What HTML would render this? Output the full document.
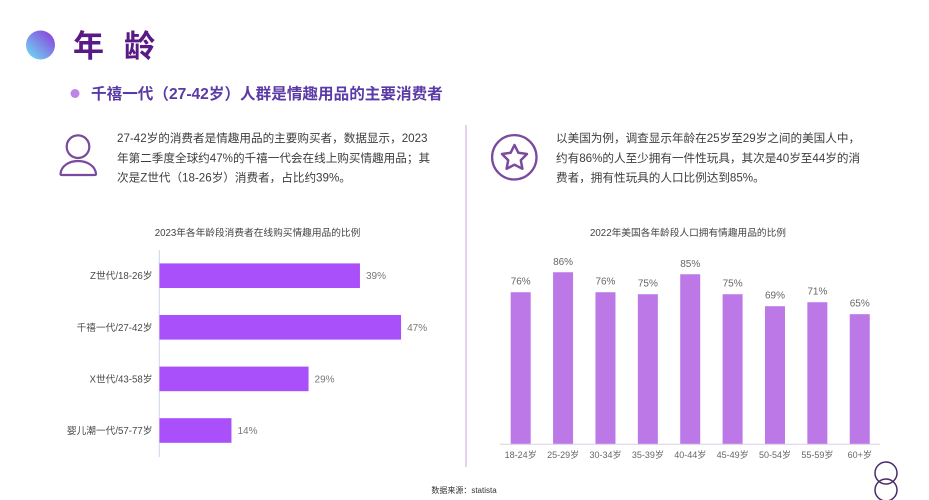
<!DOCTYPE html>
<html lang="zh-CN">
<head>
<meta charset="utf-8">
<title>年龄</title>
<style>
html,body{margin:0;padding:0;background:#fff;}
body{width:929px;height:500px;overflow:hidden;}
svg{display:block;}
text{font-family:"Liberation Sans","Noto Sans CJK SC",sans-serif;}
</style>
</head>
<body>
<svg id="page" xmlns="http://www.w3.org/2000/svg" width="929" height="500" viewBox="0 0 929 500">
  <defs>
    <linearGradient id="orb" x1="0.9" y1="0.1" x2="0.15" y2="0.9">
      <stop offset="0" stop-color="#8c45dc"/>
      <stop offset="1" stop-color="#6dd0f0"/>
    </linearGradient>
  </defs>
  <circle cx="40.5" cy="45" r="14.5" fill="url(#orb)"/>
  <text x="73" y="57" font-size="31" font-weight="700" fill="#5a1a86">年</text>
  <text x="124" y="57" font-size="31" font-weight="700" fill="#5a1a86">龄</text>
  <circle cx="75" cy="93.5" r="4.5" fill="#bd85e8"/>
  <text x="91" y="99" font-size="15.6" font-weight="700" fill="#5a3aa6">千禧一代（27-42岁）人群是情趣用品的主要消费者</text>

  <g fill="none" stroke="#7a4a9e" stroke-width="2.200">
    <circle cx="78" cy="146.700" r="11.300"/>
    <path d="M60.500 174 C61 166 69 161 78 161 C87 161 95.500 166 96 174 Q96 175 94.500 175 L62 175 Q60.500 175 60.500 174 Z"/>
  </g>
  <g font-size="11.6" fill="#3d3d3d">
    <text x="117" y="142">27-42岁的消费者是情趣用品的主要购买者，数据显示，2023</text>
    <text x="117" y="162">年第二季度全球约47%的千禧一代会在线上购买情趣用品；其</text>
    <text x="117" y="181.500">次是Z世代（18-26岁）消费者，占比约39%。</text>
  </g>

  <line x1="466" y1="125" x2="466" y2="467" stroke="#dcc2e8" stroke-width="1.500"/>

  <g fill="none" stroke="#7a4a9e">
    <circle cx="514.300" cy="157.300" r="22.200" stroke-width="2.300"/>
    <path d="M514.500 145 L518.400 152.800 L527 154 L520.800 160.200 L522.400 168.800 L514.500 164.700 L506.600 168.800 L508.200 160.200 L502 154 L510.600 152.800 Z" stroke-linejoin="round" stroke-width="2.500"/>
  </g>
  <g font-size="11.6" fill="#3d3d3d">
    <text x="556" y="142">以美国为例，调查显示年龄在25岁至29岁之间的美国人中，</text>
    <text x="556" y="162">约有86%的人至少拥有一件性玩具，其次是40岁至44岁的消</text>
    <text x="556" y="181.500">费者，拥有性玩具的人口比例达到85%。</text>
  </g>

  <text x="257.500" y="236" font-size="9.700" fill="#444" text-anchor="middle">2023年各年龄段消费者在线购买情趣用品的比例</text>
  <g id="left-chart"></g>

  <text x="688" y="236" font-size="9.700" fill="#444" text-anchor="middle">2022年美国各年龄段人口拥有情趣用品的比例</text>
  <g id="right-chart"></g>

  <text x="464" y="493" font-size="8" fill="#333" text-anchor="middle">数据来源：statista</text>
  <g fill="none" stroke="#4a2a68" stroke-width="1.500">
    <circle cx="886" cy="473" r="11"/>
    <circle cx="886" cy="490" r="11"/>
  </g>
</svg>
<script>
const generationLabels = ["Z世代/18-26岁", "千禧一代/27-42岁", "X世代/43-58岁", "婴儿潮一代/57-77岁"];
const generationValues = [39, 47, 29, 14];
const ageLabels = ["18-24岁", "25-29岁", "30-34岁", "35-39岁", "40-44岁", "45-49岁", "50-54岁", "55-59岁", "60+岁"];
const ageValues = [76, 86, 76, 75, 85, 75, 69, 71, 65];

const SVG_NS = "http://www.w3.org/2000/svg";
function make(tag, parent, attrs, content) {
  const el = document.createElementNS(SVG_NS, tag);
  Object.keys(attrs).forEach(function (k) { el.setAttribute(k, attrs[k]); });
  if (content !== undefined) el.textContent = content;
  parent.appendChild(el);
  return el;
}

/* Left: horizontal bars */
const leftChart = document.getElementById("left-chart");
const leftX = function (v) { return 159.5 + v * 5.14; };
const leftBandCenter = function (i) { return 275.7 + i * 51.6; };
const leftAxis = make("line", leftChart, { x1: 159.3, x2: 159.3, y1: 250, y2: 457, stroke: "#c9d6ea", "stroke-width": 1 });


generationValues.forEach(function (v, i) {
  const c = leftBandCenter(i);
  const bar = make("rect", leftChart, { x: leftX(0), y: c - 12.3, width: leftX(v) - leftX(0), height: 24.6, fill: "#aa50fb" });
  
  
  const label = make("text", leftChart, { x: 152.5, y: c + 3.5, "font-size": 9.7, fill: "#4a4a4a", "text-anchor": "end" }, generationLabels[i]);
  
  
  const value = make("text", leftChart, { x: leftX(v) + 6, y: c + 3.5, "font-size": 10, fill: "#777" }, v + "%");
  
  
});

/* Right: vertical columns */
const rightChart = document.getElementById("right-chart");
const rightY = function (v) { return 444 - v * 1.997; };
const rightBandCenter = function (i) { return 520.7 + i * 42.38; };
ageValues.forEach(function (v, i) {
  const c = rightBandCenter(i);
  const bar = make("rect", rightChart, { x: c - 10, y: rightY(v), width: 20, height: rightY(0) - rightY(v), fill: "#bb78e6" });
  
  
  const value = make("text", rightChart, { x: c, y: rightY(v) - 7.5, "font-size": 10, fill: "#666", "text-anchor": "middle" }, v + "%");
  
  
  const label = make("text", rightChart, { x: c, y: 458, "font-size": 9, fill: "#666", "text-anchor": "middle" }, ageLabels[i]);
  
  
});
const rightAxis = make("line", rightChart, { x1: 500, x2: 880, y1: 444.3, y2: 444.3, stroke: "#d9cfe4", "stroke-width": 1 });


</script>
</body>
</html>
